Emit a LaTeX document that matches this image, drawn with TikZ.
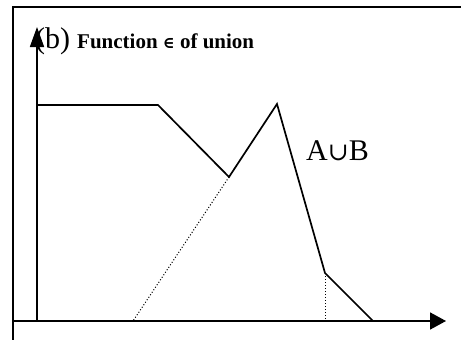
\documentclass[tikz,border=0pt]{standalone}
\usepackage{fontspec}
\setmainfont{Liberation Serif}
\newfontfamily\symfont{DejaVu Serif}
\usetikzlibrary{arrows.meta}
\begin{document}
\begin{tikzpicture}[x=1pt,y=-1pt,
  curve/.style={line width=1.7pt,line join=miter},
  guide/.style={line width=1pt,dotted},
  axis/.style={line width=1.7pt},
  frame/.style={line width=1.8pt}]
\useasboundingbox (0,0) rectangle (461,340);
% frame
\draw[frame] (13,340) -- (13,7) -- (461,7);
% axes
\coordinate (o) at (37,321);
\coordinate (xs) at (13,321);
\coordinate (xe) at (446,321);
\coordinate (ye) at (37,27);
\draw[axis,-{Triangle[length=16pt,width=17pt]}] (xs) -- (xe);
\draw[axis,-{Triangle[length=20pt,width=14pt]}] (o) -- (ye);
% curve
\coordinate (p0) at (37,105);
\coordinate (p1) at (158,105);
\coordinate (p2) at (229,177);
\coordinate (p3) at (277,104);
\coordinate (p4) at (325,273);
\coordinate (p5) at (373,321);
\coordinate (d0) at (133,321);
\coordinate (d1) at (325,321);
\draw[curve] (p0) -- (p1) -- (p2) -- (p3) -- (p4) -- (p5);
\draw[guide] (p2) -- (d0);
\draw[guide] (p4) -- (d1);
% labels
\node[anchor=base west,inner sep=0pt,font=\fontsize{30}{32}\selectfont] (lb) at (35,48) {(b)};
\node[anchor=base west,inner sep=0pt,font=\fontsize{21}{23}\selectfont\bfseries] (lt) at (77,48) {Function {\symfont\fontsize{16}{18}\selectfont ∈} of union};
\node[anchor=base west,inner sep=0pt,font=\fontsize{30}{32}\selectfont] (lab) at (306,160) {A{\symfont\fontsize{25}{27}\selectfont ∪}B};
\end{tikzpicture}
\end{document}
